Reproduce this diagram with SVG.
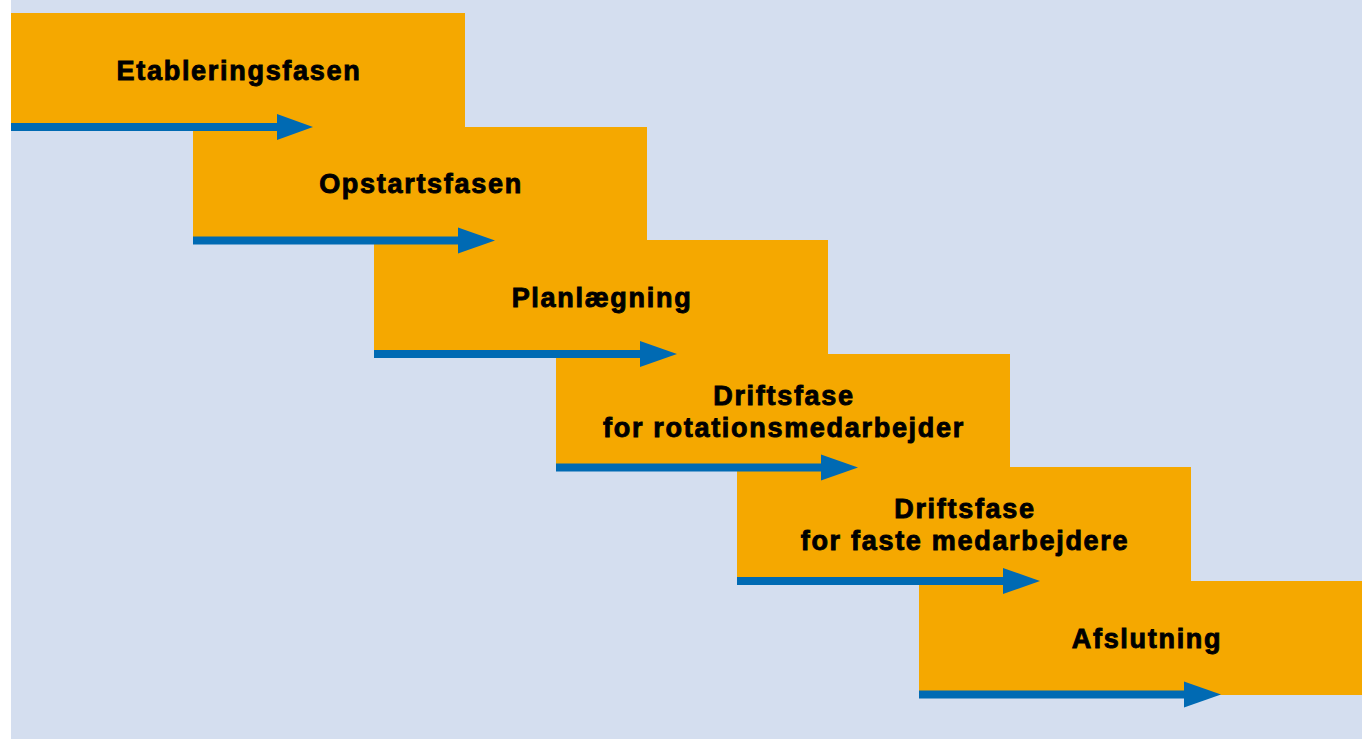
<svg xmlns="http://www.w3.org/2000/svg" width="1362" height="739" viewBox="0 0 1362 739">
<defs>
<style>
.box{fill:#F5A800;}
.lbl{font-family:"Liberation Sans",Arial,sans-serif;font-weight:bold;font-size:27px;fill:#000;stroke:#000;stroke-width:0.9;text-anchor:middle;letter-spacing:1.7px;}
.shaft{stroke:#006AB3;stroke-width:8;fill:none;}
.head{fill:#006AB3;}
</style>
</defs>
<rect x="0" y="0" width="1362" height="739" fill="#FFFFFF"/>
<rect x="11" y="0" width="1351" height="739" fill="#D4DEEF"/>
<g id="node1"><rect class="box" x="11" y="13" width="454" height="114"/><text class="lbl" x="239" y="80">Etableringsfasen</text></g>
<g id="node2"><rect class="box" x="193" y="127" width="454" height="114"/><text class="lbl" x="421" y="193">Opstartsfasen</text></g>
<g id="node3"><rect class="box" x="374" y="240" width="454" height="114"/><text class="lbl" x="602" y="307">Planlægning</text></g>
<g id="node4"><rect class="box" x="556" y="354" width="454" height="114"/><text class="lbl" x="784" y="405">Driftsfase</text><text class="lbl" x="784" y="437">for rotationsmedarbejder</text></g>
<g id="node5"><rect class="box" x="737" y="467" width="454" height="114"/><text class="lbl" x="965" y="518">Driftsfase</text><text class="lbl" x="965" y="550">for faste medarbejdere</text></g>
<g id="node6"><rect class="box" x="919" y="581" width="443" height="114"/><text class="lbl" x="1147" y="648">Afslutning</text></g>
<g id="connectors">
<line class="shaft" x1="11" y1="127" x2="280" y2="127"/><polygon class="head" points="277,114 313,127 277,140"/>
<line class="shaft" x1="193" y1="240.5" x2="462" y2="240.5"/><polygon class="head" points="458,227.5 495,240.5 458,253.5"/>
<line class="shaft" x1="374" y1="354" x2="643" y2="354"/><polygon class="head" points="640,341 677,354 640,367"/>
<line class="shaft" x1="556" y1="467.5" x2="825" y2="467.5"/><polygon class="head" points="821,454.5 858,467.5 821,480.5"/>
<line class="shaft" x1="737" y1="581" x2="1006" y2="581"/><polygon class="head" points="1003,568 1040,581 1003,594"/>
<line class="shaft" x1="919" y1="694.5" x2="1188" y2="694.5"/><polygon class="head" points="1184,681.5 1221,694.5 1184,707.5"/>
</g>
</svg>
